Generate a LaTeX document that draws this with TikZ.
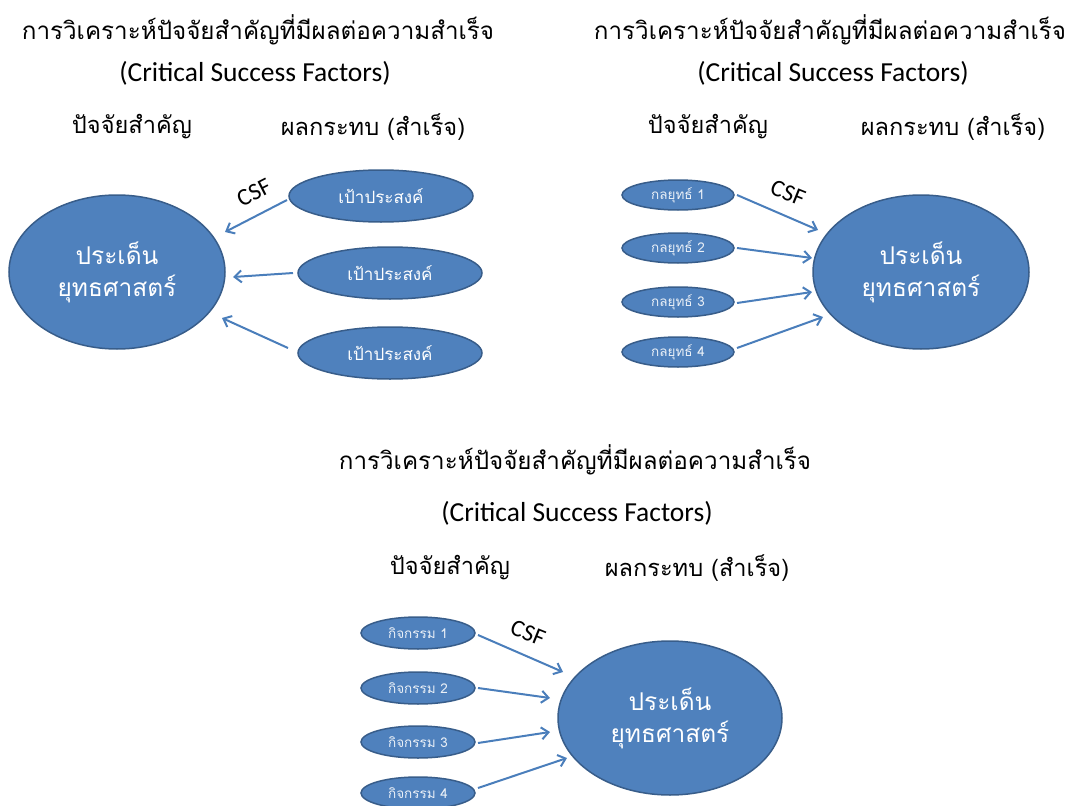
\documentclass[tikz,border=0pt]{standalone}
\usepackage{fontspec}
\setmainfont{Carlito}
\newfontfamily\thai[Script=Thai]{Loma}
\usetikzlibrary{shapes.geometric,calc,arrows.meta}
\definecolor{fillb}{HTML}{4F81BD}
\definecolor{edgeb}{HTML}{385D8A}
\definecolor{arrb}{HTML}{4A7EBB}
\begin{document}
\begin{tikzpicture}[x=1pt,y=-1pt,
  title/.style={font=\thai\fontsize{24.2}{28}\selectfont},
  sub/.style={font=\fontsize{27.5}{31}\selectfont},
  col/.style={font=\thai\fontsize{23.6}{27}\selectfont},
  big/.style={ellipse, fill=fillb, draw=edgeb, line width=1.5pt, inner sep=0pt,
    text=white, align=center, font=\thai\fontsize{24.5}{32}\selectfont,
    minimum width=216pt, minimum height=154pt},
  goal/.style={ellipse, fill=fillb, draw=edgeb, line width=1.5pt, inner sep=0pt,
    text=white, font=\thai\fontsize{17}{20}\selectfont,
    minimum width=184pt, minimum height=52pt},
  small/.style={ellipse, fill=fillb, draw=edgeb, line width=1.5pt, inner sep=0pt,
    text=white!88!fillb, font=\thai\fontsize{13.5}{16}\selectfont,
    minimum width=112pt, minimum height=30pt},
  arr/.style={draw=arrb, line width=2pt, -{Straight Barb[length=7pt,width=12pt,line width=2pt]}},
  csf/.style={font=\fontsize{24}{26}\selectfont, inner sep=0pt}
]
\useasboundingbox (0,0) rectangle (1072,806);

% ---------- Panel 1 ----------
\node[title] (t1) at (258,30) {การวิเคราะห์ปัจจัยสำคัญที่มีผลต่อความสำเร็จ};
\node[sub] (u1) at (255,73) {(Critical Success Factors)};
\node[col] (l1) at (132,127) {ปัจจัยสำคัญ};
\node[col] (r1) at (373,127) {ผลกระทบ (สำเร็จ)};
\node[big] (b1) at (117,272) {ประเด็น\\ยุทธศาสตร์};
\node[goal] (g1) at (381,196) {เป้าประสงค์};
\node[goal] (g2) at (390,273) {เป้าประสงค์};
\node[goal] (g3) at (390,353) {เป้าประสงค์};
\draw[arr] ($(g1.center)+(-94,4)$) -- ($(b1.center)+(108,-40)$);
\draw[arr] ($(g2.center)+(-97,0)$) -- ($(b1.center)+(116,5)$);
\draw[arr] ($(g3.center)+(-102,-5)$) -- ($(b1.center)+(105,46)$);
\node[csf, rotate=27] (c1) at (254,193) {CSF};

% ---------- Panel 2 ----------
\node[title] (t2) at (830,30) {การวิเคราะห์ปัจจัยสำคัญที่มีผลต่อความสำเร็จ};
\node[sub] (u2) at (833,73) {(Critical Success Factors)};
\node[col] (l2) at (708,127) {ปัจจัยสำคัญ};
\node[col] (r2) at (953,127) {ผลกระทบ (สำเร็จ)};
\node[big] (b2) at (921,272) {ประเด็น\\ยุทธศาสตร์};
\node[small] (k1) at (678,195) {กลยุทธ์ 1};
\node[small] (k2) at (678,248) {กลยุทธ์ 2};
\node[small] (k3) at (678,302) {กลยุทธ์ 3};
\node[small] (k4) at (678,352) {กลยุทธ์ 4};
\draw[arr] ($(k1.center)+(59,0)$) -- ($(b2.center)+(-103,-42)$);
\draw[arr] ($(k2.center)+(59,0)$) -- ($(b2.center)+(-109,-14)$);
\draw[arr] ($(k3.center)+(59,1)$) -- ($(b2.center)+(-109,20)$);
\draw[arr] ($(k4.center)+(59,-4)$) -- ($(b2.center)+(-98,45)$);
\node[csf, rotate=-22] (c2) at (788,193) {CSF};

% ---------- Panel 3 ----------
\node[title] (t3) at (575,460) {การวิเคราะห์ปัจจัยสำคัญที่มีผลต่อความสำเร็จ};
\node[sub] (u3) at (577,513) {(Critical Success Factors)};
\node[col] (l3) at (450,568) {ปัจจัยสำคัญ};
\node[col] (r3) at (697,568) {ผลกระทบ (สำเร็จ)};
\node[big, minimum width=224pt] (b3) at (670,718) {ประเด็น\\ยุทธศาสตร์};
\node[small, minimum width=114pt, minimum height=32pt] (a1) at (418,633) {กิจกรรม 1};
\node[small, minimum width=114pt, minimum height=32pt] (a2) at (418,688) {กิจกรรม 2};
\node[small, minimum width=114pt, minimum height=32pt] (a3) at (418,742) {กิจกรรม 3};
\node[small, minimum width=114pt, minimum height=32pt] (a4) at (418,793) {กิจกรรม 4};
\draw[arr] ($(a1.center)+(60,2)$) -- ($(b3.center)+(-107,-46)$);
\draw[arr] ($(a2.center)+(60,0)$) -- ($(b3.center)+(-120,-20)$);
\draw[arr] ($(a3.center)+(60,1)$) -- ($(b3.center)+(-120,14)$);
\draw[arr] ($(a4.center)+(60,-5)$) -- ($(b3.center)+(-103,40)$);
\node[csf, rotate=-22] (c3) at (528,633) {CSF};
\end{tikzpicture}
\end{document}
